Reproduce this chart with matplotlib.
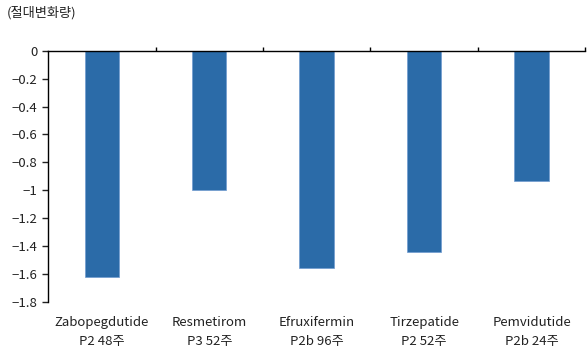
import matplotlib

matplotlib.use("Agg")
import matplotlib.pyplot as plt
from matplotlib.ticker import FixedLocator, FuncFormatter

plt.rcParams["font.family"] = ["Noto Sans CJK KR", "DejaVu Sans"]
plt.rcParams["axes.unicode_minus"] = True

drugs = ["Zabopegdutide", "Resmetirom", "Efruxifermin", "Tirzepatide", "Pemvidutide"]
trials = ["P2 48주", "P3 52주", "P2b 96주", "P2 52주", "P2b 24주"]
change = [-1.62, -1.0, -1.56, -1.44, -0.93]
y_ticks = [0, -0.2, -0.4, -0.6, -0.8, -1.0, -1.2, -1.4, -1.6, -1.8]

BAR_COLOR = "#2b6ba8"

fig = plt.figure(figsize=(5.87, 3.53), dpi=100)
ax = fig.add_axes([0.082, 0.145, 0.915, 0.711])

x = list(range(len(drugs)))
ax.bar(x, change, width=0.32, color=BAR_COLOR, edgecolor="#6f9bd0", linewidth=0.5)

ax.set_xlim(-0.5, len(drugs) - 0.5)
ax.set_ylim(-1.8, 0)

# category labels sit under the plot, two lines each
ax.set_xticks(x)
ax.set_xticklabels([f"{d}\n{t}" for d, t in zip(drugs, trials)], fontsize=9.5, linespacing=1.6)
ax.tick_params(axis="x", which="major", length=0, pad=10, colors="#222222")

# separators on the zero line between categories
ax.xaxis.set_minor_locator(FixedLocator([i + 0.5 for i in x]))
ax.tick_params(axis="x", which="minor", top=True, bottom=False, direction="out", length=3, width=1)

ax.set_yticks(y_ticks)
ax.yaxis.set_major_formatter(FuncFormatter(lambda v, _: f"{v:g}".replace("-", "\u2212")))
ax.tick_params(axis="y", direction="out", length=4, width=1, labelsize=9.5, colors="#222222")

ax.spines["bottom"].set_visible(False)
ax.spines["right"].set_visible(False)
ax.spines["top"].set_linewidth(1)
ax.spines["left"].set_linewidth(1)

fig.text(0.012, 0.965, "(절대변화량)", fontsize=9.5, ha="left", va="center", color="#222222")

fig.savefig("out.png", dpi=100)
